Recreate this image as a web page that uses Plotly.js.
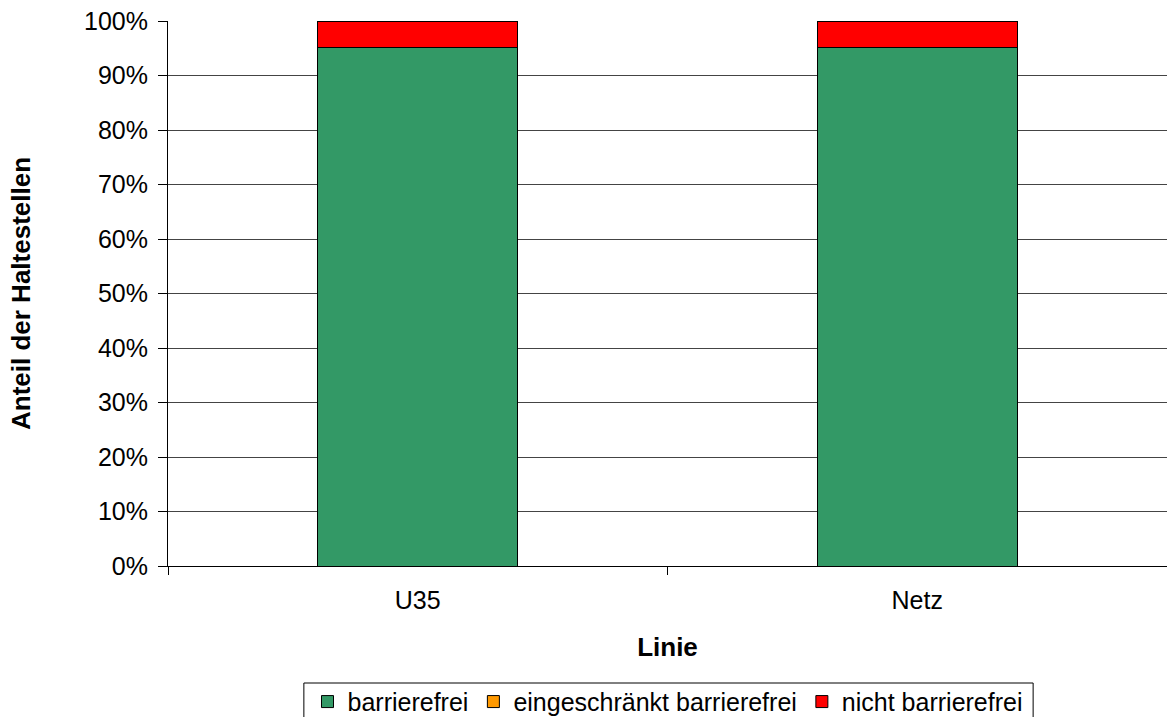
<!DOCTYPE html>
<html>
<head>
<meta charset="utf-8">
<script src="https://cdn.plot.ly/plotly-3.0.1.min.js"></script>
<style>html,body{margin:0;padding:0;background:#fff;}#chart{width:1167px;height:717px;}</style>
</head>
<body>
<div id="chart"></div>
<script>
// Anteil der Haltestellen nach Barrierefreiheit
const linien = ['U35', 'Netz'];
const barrierefrei = [95.2, 95.2];
const eingeschraenkt = [0, 0];
const nichtBarrierefrei = [4.8, 4.8];
const yTicks = [0, 10, 20, 30, 40, 50, 60, 70, 80, 90, 100];
const yTickLabels = yTicks.map(v => v + '%');

const outline = {color: '#000', width: 1};
const traces = [
  {type: 'bar', name: 'barrierefrei', x: linien, y: barrierefrei,
   marker: {color: '#339966', line: outline}, width: 0.4},
  {type: 'bar', name: 'eingeschränkt barrierefrei', x: linien, y: eingeschraenkt,
   marker: {color: '#FF9900', line: outline}, width: 0.4},
  {type: 'bar', name: 'nicht barrierefrei', x: linien, y: nichtBarrierefrei,
   marker: {color: '#FF0000', line: outline}, width: 0.4}
];

const layout = {
  width: 1167, height: 717,
  margin: {l: 168, r: 0, t: 21, b: 151, autoexpand: false},
  barmode: 'stack',
  paper_bgcolor: '#fff', plot_bgcolor: '#fff',
  font: {family: 'Liberation Sans, Arial, sans-serif', size: 25, color: '#000'},
  showlegend: true,
  legend: {
    orientation: 'h', x: 0.5, xanchor: 'center', y: -0.207, yanchor: 'top',
    borderwidth: 0, bgcolor: 'rgba(0,0,0,0)', font: {size: 25},
    traceorder: 'normal', itemclick: false, itemwidth: 30
  },
  // frame around the legend
  shapes: [{
    type: 'rect', xref: 'paper', yref: 'paper', layer: 'above',
    x0: 0.136, x1: 0.866, y0: -0.2147, y1: -0.279,
    line: {color: '#000', width: 1}, fillcolor: 'rgba(0,0,0,0)'
  }],
  xaxis: {
    type: 'category', tickson: 'boundaries', ticks: 'outside', ticklen: 8,
    tickcolor: '#000', showline: true, linecolor: '#000', linewidth: 1,
    showgrid: false, range: [-0.5, 1.5], ticklabelstandoff: 12,
    title: {text: '<b>Linie</b>', font: {size: 26}, standoff: 24},
    tickfont: {size: 25}
  },
  yaxis: {
    range: [0, 100], tickvals: yTicks, ticktext: yTickLabels,
    ticks: 'outside', ticklen: 9, tickcolor: '#000', ticklabelstandoff: 5,
    showline: true, linecolor: '#000', linewidth: 1,
    showgrid: true, gridcolor: '#444', gridwidth: 1, zeroline: false,
    title: {text: '<b>Anteil der Haltestellen</b>', font: {size: 26}, standoff: 45},
    tickfont: {size: 25}
  }
};

Plotly.newPlot('chart', traces, layout, {displayModeBar: false, staticPlot: true});
</script>
</body>
</html>
